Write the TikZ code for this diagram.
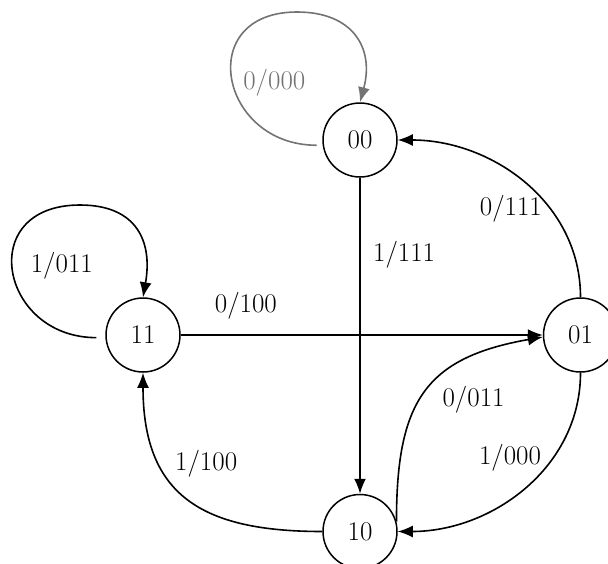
\documentclass[tikz,border=0pt]{standalone}
\usetikzlibrary{positioning}
\usetikzlibrary{arrows.meta}
\definecolor{loopgray}{RGB}{115,115,115}

\begin{document}
\begin{tikzpicture}[x=1pt, y=-1pt,
                    every node/.style={font=\fontsize{27}{32}\selectfont},
                    st/.style={circle, draw, line width=1.5pt, minimum size=74pt, inner sep=0pt},
                    tr/.style={line width=1.6pt, -{Latex[length=15pt, width=12pt]}}]
\useasboundingbox (0,0) rectangle (608,563);
\node (00) [st] at (360,140) {00};
\node (10) [st, below=316pt of 00] {10};
\node (11) [st] at (143,335) {11};
\node (01) [st, right=362pt of 11] {01};
\coordinate (top00) at (297,12);
\coordinate (top11) at (80,205);
% self loops
\draw[tr, loopgray, shorten <=6pt] (00.188) to[out=180, in=180, looseness=1.95] node[pos=0.48, right=6pt] {0/000} (top00)
      to[out=0, in=75, looseness=1.3] (00.north);
\draw[tr, shorten <=9pt] (11.184) to[out=180, in=180, looseness=2] node[pos=0.53, right=14pt] {1/011} (top11)
      to[out=0, in=80, looseness=1.3] (11.north);
% transitions
\draw[tr] (00) -- node[pos=0.245, right=9pt] {1/111} (10);
\draw[tr] (11) -- node[pos=0.18, above=12pt] {0/100} (01);
\draw[tr] (01.north) to[out=90, in=0, looseness=1.0] node[pos=0.36, left=4pt] {0/111} (00.east);
\draw[tr] (01.south) to[out=-90, in=0, looseness=1.0] node[pos=0.34, left=8pt] {1/000} (10.east);
\draw[tr] (10.15) to[out=90, in=190, looseness=1.3] node[pos=0.46, right=18pt] {0/011} (01.183);
\draw[tr] (10.west) to[out=180, in=-90, looseness=1.3] node[pos=0.6, above right] {1/100} (11.south);
\end{tikzpicture}
\end{document}
